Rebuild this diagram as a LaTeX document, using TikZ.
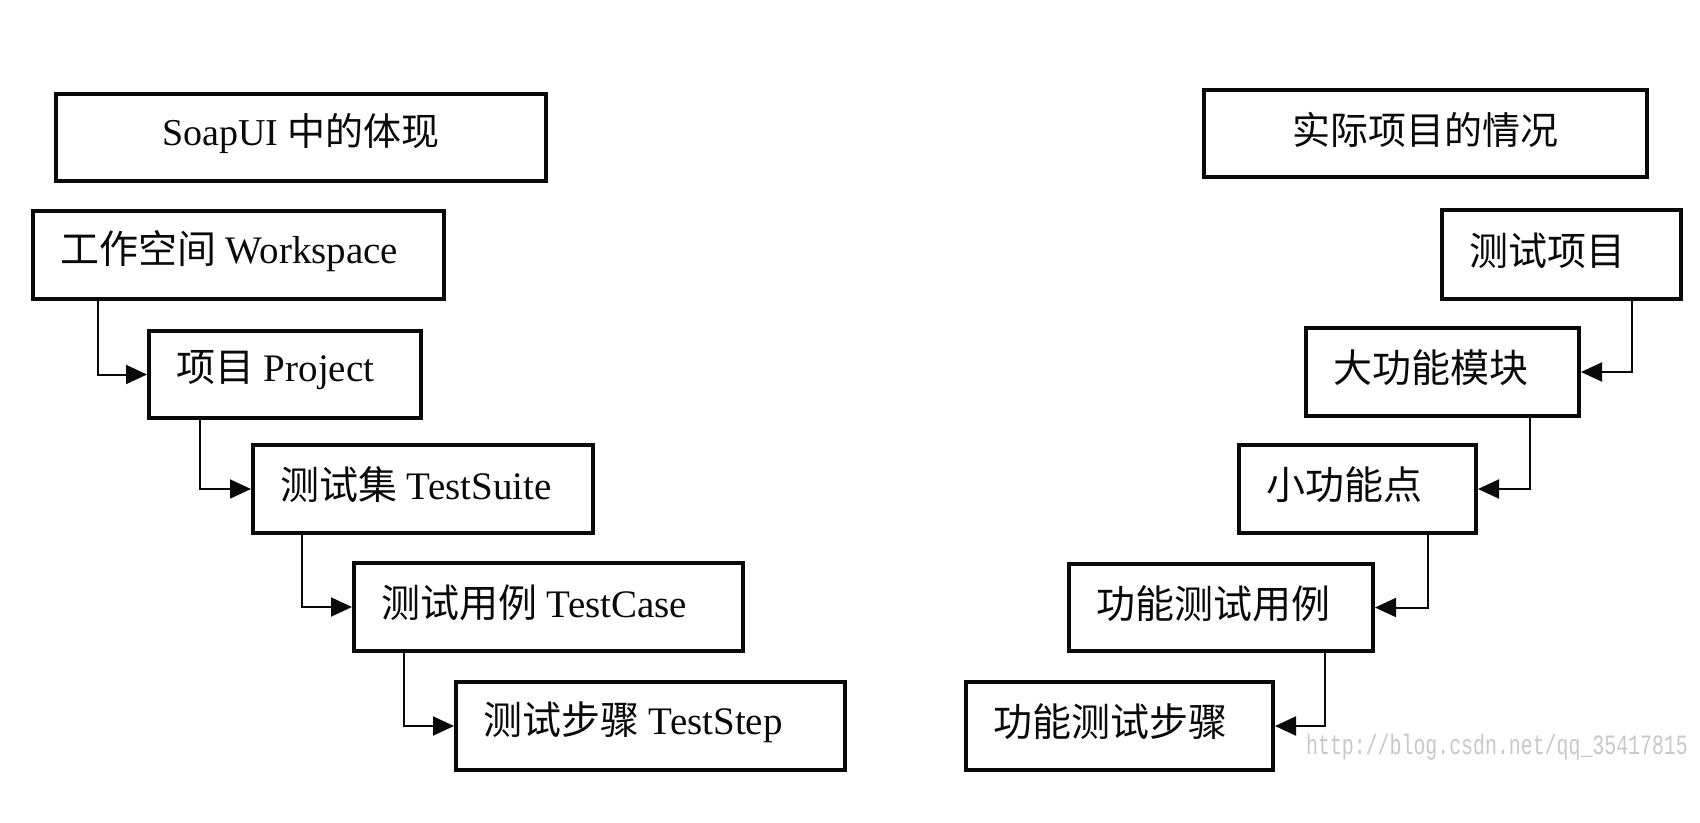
\documentclass[tikz,border=0pt]{standalone}
\usepackage{fontspec}
\setmainfont{Liberation Serif}
\newfontfamily\cjk{Noto Sans CJK SC}
\newfontfamily\wmfont{Liberation Mono}
\usetikzlibrary{arrows.meta}
\definecolor{wmgray}{RGB}{200,200,200}
\definecolor{ink}{RGB}{10,10,10}
\tikzset{
  box/.style={draw=ink, line width=4pt, anchor=north west, inner xsep=0pt, inner ysep=0pt,
    font=\fontsize{39}{46}\selectfont, text=ink},
  conn/.style={draw=ink, line width=2pt, -{Triangle[length=21pt,width=19pt]}}
}
% box with left-aligned text: name, x, y, w, h, text
\newcommand{\mybox}[6]{%
  \node[box, minimum width=#4pt, minimum height=#5pt] (#1) at (#2,#3) {};
  \node[anchor=west, inner sep=0pt, font=\fontsize{39}{46}\selectfont, text=ink] (#1-t) at ([xshift=29pt,yshift=4pt]#1.west) {#6};
}
\begin{document}
\begin{tikzpicture}[x=1pt,y=-1pt]
\useasboundingbox[fill=white] (0,0) rectangle (1700,822);
% titles
\node[box, minimum width=490pt, minimum height=87pt] (t1) at (54,92) {};
\node[inner sep=0pt, font=\fontsize{38}{46}\selectfont, text=ink] (t1-t) at ([yshift=4pt]t1.center) {SoapUI {\cjk 中的体现}};
\node[box, minimum width=443pt, minimum height=87pt] (t2) at (1202,88) {};
\node[inner sep=0pt, font=\fontsize{38}{46}\selectfont, text=ink] (t2-t) at ([yshift=4pt]t2.center) {\cjk 实际项目的情况};
% left chain
\mybox{ws}{31}{209}{411}{88}{{\cjk 工作空间} Workspace}
\mybox{pr}{147}{329}{272}{87}{{\cjk 项目} Project}
\mybox{ts}{251}{443}{340}{88}{{\cjk 测试集} TestSuite}
\mybox{tc}{352}{561}{389}{88}{{\cjk 测试用例} TestCase}
\mybox{tp}{454}{680}{389}{88}{{\cjk 测试步骤} TestStep}
% right chain
\mybox{r1}{1440}{208}{239}{89}{\cjk 测试项目}
\mybox{r2}{1304}{326}{273}{88}{\cjk 大功能模块}
\mybox{r3}{1237}{443}{237}{88}{\cjk 小功能点}
\mybox{r4}{1067}{562}{304}{87}{\cjk 功能测试用例}
\mybox{r5}{964}{680}{307}{88}{\cjk 功能测试步骤}
% connectors left
\draw[conn] ([xshift=67pt]ws.south west) |- (pr.west);
\draw[conn] ([xshift=53pt]pr.south west) |- (ts.west);
\draw[conn] ([xshift=51pt]ts.south west) |- (tc.west);
\draw[conn] ([xshift=52pt]tc.south west) |- (tp.west);
% connectors right
\draw[conn] ([xshift=-51pt]r1.south east) |- (r2.east);
\draw[conn] ([xshift=-51pt]r2.south east) |- (r3.east);
\draw[conn] ([xshift=-50pt]r3.south east) |- (r4.east);
\draw[conn] ([xshift=-50pt]r4.south east) |- (r5.east);
% watermark
\node[anchor=west, inner sep=0pt, text=wmgray, font=\wmfont\fontsize{28}{30}\selectfont, xscale=0.71] (wm) at (1306,747) {http://blog.csdn.net/qq\_35417815};
\end{tikzpicture}
\end{document}
